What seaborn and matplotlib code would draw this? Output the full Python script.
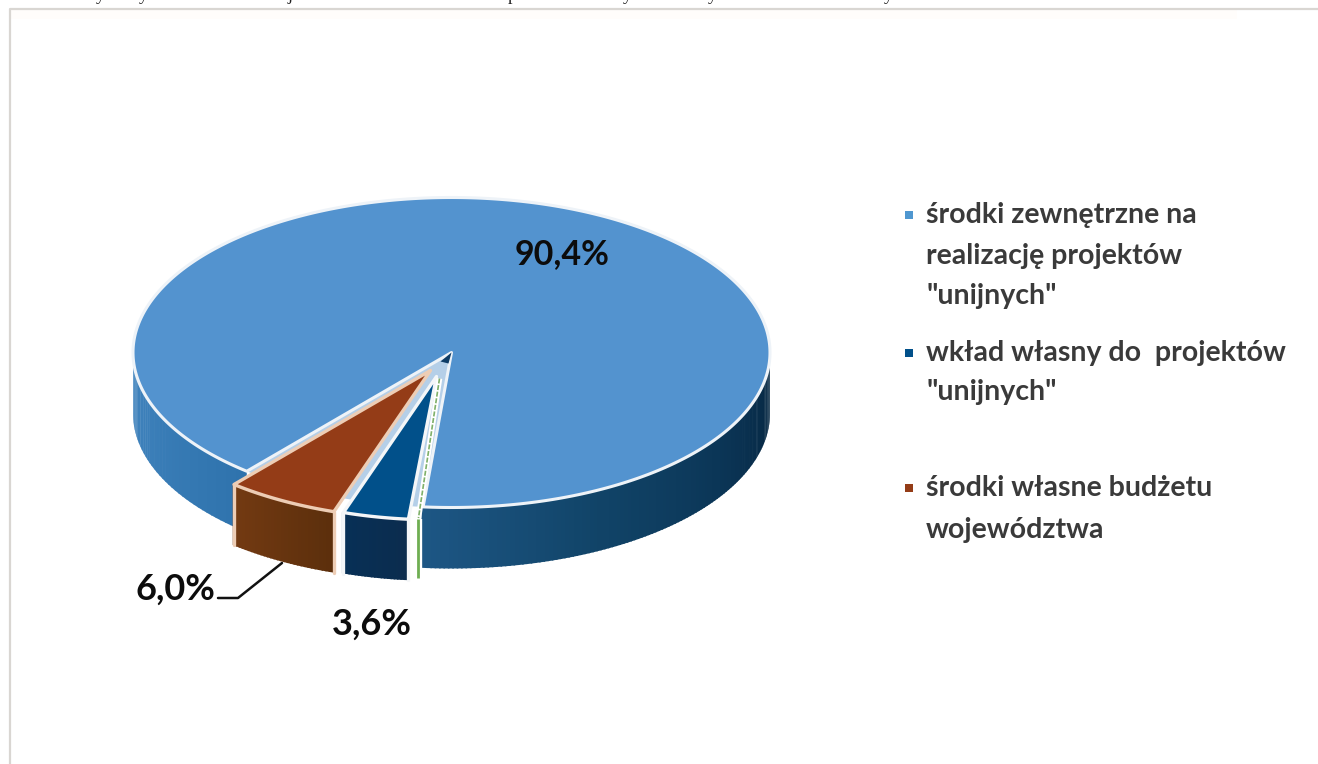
import numpy as np
import matplotlib
matplotlib.use("Agg")
import matplotlib.pyplot as plt
import seaborn as sns

# ---- data -------------------------------------------------------------
categories = ['środki zewnętrzne na\nrealizację projektów\n"unijnych"',
              'wkład własny do  projektów\n"unijnych"',
              'środki własne budżetu\nwojewództwa']
values = [90.4, 3.6, 6.0]
value_labels = ["90,4%", "3,6%", "6,0%"]
sliver_value = 0.1            # unlabelled thin green slice between big and navy
top_chars = ["y", "y", "j", "p", "y", "y", "y"]
top_char_x = [100, 143, 290, 512, 627, 712, 888]

# ---- style ------------------------------------------------------------
sns.set_theme(style="white")
plt.rcParams["font.family"] = ["Lato", "DejaVu Sans"]

top_colors = ["#5393cf", "#01508a", "#943c17"]
marker_colors = ["#4f97d0", "#01508a", "#943c17"]
CX, CY, RX, RY, DEPTH = 451.5, 352.5, 318.5, 155.0, 61.0
START = 40.0   # degrees clockwise on screen from straight down

fig = plt.figure(figsize=(13.18, 7.64), dpi=100, facecolor="white")
ax = fig.add_axes([0, 0, 1, 1])
ax.set_xlim(0, 1318)
ax.set_ylim(764, 0)
ax.axis("off")


def arc(a0, a1, cx=CX, cy=CY, rx=RX, ry=RY, n=200):
    t = np.radians(np.linspace(a0, a1, n))
    return cx - rx * np.sin(t), cy + ry * np.cos(t)


def wall(a0, a1, palette, cx=CX, cy=CY, rx=RX, ry=RY):
    edges = np.linspace(a0, a1, len(palette) + 1)
    for c, e0, e1 in zip(palette, edges[:-1], edges[1:]):
        x, y = arc(e0, e1 + 0.3, cx, cy, rx, ry, 8)
        ax.fill(np.r_[x, x[::-1]], np.r_[y, y[::-1] + DEPTH], color=c, lw=0)


def top(a0, a1, color, edge, cx=CX, cy=CY, rx=RX, ry=RY, lw=2.2):
    x, y = arc(a0, a1, cx, cy, rx, ry, 400)
    ax.fill(np.r_[cx, x], np.r_[cy, y], facecolor=color, edgecolor=edge, lw=lw, joinstyle="round")


# ---- angles from values -------------------------------------------------
total = sum(values) + sliver_value
sweep = [v / total * 360 for v in values]
big0, big1 = START, START + sweep[0]
navy1 = START + 360 - sweep[2]
navy0 = navy1 - sweep[1]
brown0, brown1 = navy1, START + 360

# ---- big slice ----------------------------------------------------------
wall(big0, 90, sns.blend_palette(["#2f73ad", "#4285bf"], 40))
wall(270, big1, sns.blend_palette(["#062640", "#0b3556", "#114468", "#1d5684"], 120))
xf, yf = arc(big1 - 360, big0)
ax.fill(np.r_[CX, xf], np.r_[CY, yf], color="#b5cfe8", lw=0)      # inside of the notch
top(big0, big1, top_colors[0], "#eef3f8")
ax.fill([CX, CX - 11, CX - 3], [CY, CY + 9, CY + 11], color="#0f3d66", lw=0)

# ---- exploded slices ----------------------------------------------------
def exploded(a0, a1, color, edge, wallpal, offset, shrink, lw=2.4):
    cx, cy = CX + offset[0], CY + offset[1]
    rx, ry = RX * shrink, RY * shrink
    wall(a0, a1, wallpal, cx, cy, rx, ry)
    x0, y0 = arc(a0, a1, cx, cy, rx, ry, 100)
    ax.plot(np.r_[x0[0], x0[0]], [y0[0], y0[0] + DEPTH], color=edge, lw=lw)
    ax.plot(np.r_[x0[-1], x0[-1]], [y0[-1], y0[-1] + DEPTH], color=edge, lw=lw)
    top(a0, a1, color, edge, cx, cy, rx, ry, lw)


# green sliver
gx, gy = arc(big1, big1, CX - 6, CY + 23, RX * 0.97, RY * 0.93, 2)
ax.plot([CX - 12, gx[0] + 0.5], [CY + 26, gy[0] - 1], color="white", lw=4, solid_capstyle="butt")
ax.plot([CX - 12, gx[0] + 0.5], [CY + 26, gy[0] - 1], color="#7fb069", lw=1.2, ls=(0, (3, 1)))
ax.plot([gx[0] + 0.5] * 2, [gy[0], gy[0] + DEPTH - 2], color="white", lw=6, solid_capstyle="butt")
ax.plot([gx[0] + 0.5] * 2, [gy[0], gy[0] + DEPTH - 2], color="#6fae52", lw=2, solid_capstyle="butt")

exploded(navy0 - 360, navy1 - 360, top_colors[1], "#f4f6f8",
         sns.blend_palette(["#0b2c4e", "#083056"], 20), (-15, 24), 0.925)
exploded(brown0 - 360, brown1 - 360, top_colors[2], "#edcdb5",
         sns.blend_palette(["#5c2f0c", "#733a12"], 30), (-21, 18), 0.96)

# ---- value labels -------------------------------------------------------
lab_pos = [(562, 254), (372, 624), (175, 589)]
lab_size = [24.5, 26, 26]
for s, (x, y), fs in zip(value_labels, lab_pos, lab_size):
    ax.text(x, y, s, fontsize=fs, fontweight="bold", color="#0c0c0c", ha="center", va="center")
ax.plot([218, 238, 282], [598, 598, 563], color="#111111", lw=1.8)

# ---- legend -------------------------------------------------------------
legend_y = [[215, 256, 296], [353, 392], [488, 530]]
for cat, ys, col in zip(categories, legend_y, marker_colors):
    ax.scatter([909], [ys[0]], marker="s", s=36, color=col, lw=0)
    for line, y in zip(cat.split("\n"), ys):
        ax.text(926, y, line, fontsize=20.5, fontweight="bold", color="#3a3a3a", ha="left", va="center")

# ---- frame and the cut-off line of text above it ------------------------
ax.plot([1318, 10, 10], [8.5, 8.5, 764], color="#d9d6d2", lw=1.6)
ax.fill_between([11, 1237], 10, 19, color="#fffdfb", lw=0)
for ch, x in zip(top_chars, top_char_x):
    ax.text(x, 0.5, ch, fontsize=13, family="Liberation Serif", color="#222222", ha="center", va="baseline")

fig.savefig("out.png", dpi=100, facecolor="white")
